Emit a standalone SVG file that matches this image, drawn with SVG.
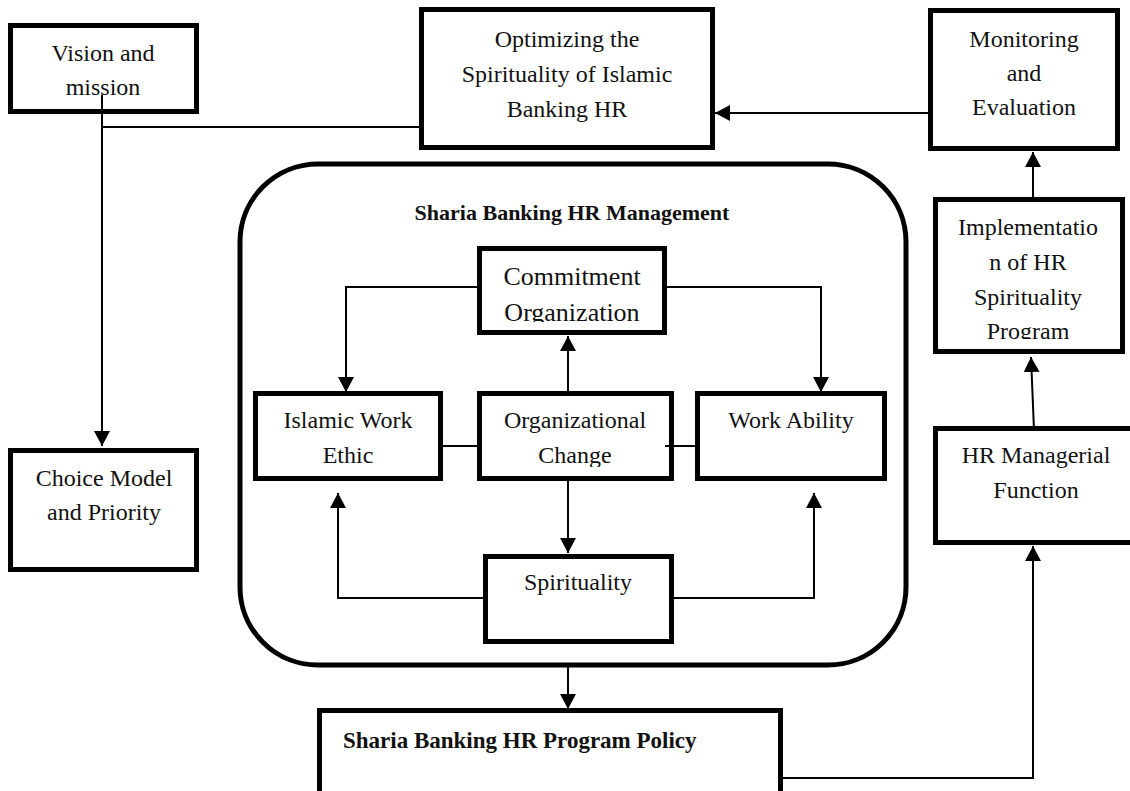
<svg xmlns="http://www.w3.org/2000/svg" width="1130" height="791" viewBox="0 0 1130 791">
<style>
  .box { fill: #ffffff; stroke: #000000; stroke-width: 5; }
  .frame { fill: none; stroke: #000000; stroke-width: 5; }
  .t { font-family: "Liberation Serif", "Times New Roman", serif; font-size: 24px; fill: #111111; text-anchor: middle; }
  .tt { font-family: "Liberation Serif", "Times New Roman", serif; font-size: 26px; fill: #111111; text-anchor: middle; }
  .title { font-family: "Liberation Serif", "Times New Roman", serif; font-size: 22px; font-weight: bold; fill: #111111; text-anchor: middle; }
  .bold { font-family: "Liberation Serif", "Times New Roman", serif; font-size: 23px; font-weight: bold; fill: #111111; }
  .c { fill: none; stroke: #000000; stroke-width: 2; }
  .a { marker-end: url(#arrow); }
</style>
<defs>
  <marker id="arrow" markerUnits="userSpaceOnUse" viewBox="0 0 15 16" refX="15" refY="8" markerWidth="15" markerHeight="16" orient="auto">
    <path d="M0,0 L15,8 L0,16 z" fill="#000000"/>
  </marker>
  <clipPath id="clipCommit"><rect x="479" y="248" width="186" height="74"/></clipPath>
  <clipPath id="clipImpl"><rect x="935" y="199" width="188" height="140"/></clipPath>
  <clipPath id="clipOrg"><rect x="479" y="393" width="193" height="74"/></clipPath>
</defs>
<rect width="1130" height="791" fill="#ffffff"/>

<g id="management-frame">
  <rect class="frame" x="240" y="164" width="666" height="501" rx="78" ry="78"/>
  <text class="title" x="572" y="220">Sharia Banking HR Management</text>
</g>

<g id="connectors">
  <path class="c a" d="M102,95 V446"/>
  <path class="c" d="M102,127 H419"/>
  <path class="c a" d="M928,113 H715"/>
  <path class="c a" d="M1033,197 V152"/>
  <path class="c a" d="M1034,430 L1031,357"/>
  <path class="c a" d="M783,778 H1033 V546"/>
  <path class="c a" d="M568,667 V709"/>
  <path class="c a" d="M477,287 H346 V392"/>
  <path class="c a" d="M667,287 H821 V392"/>
  <path class="c a" d="M568,391 V336"/>
  <path class="c a" d="M568,481 V553"/>
  <path class="c" d="M443,446 H477"/>
  <path class="c" d="M665,446 H695"/>
  <path class="c a" d="M483,598 H338 V493"/>
  <path class="c a" d="M673,598 H814 V493"/>
</g>

<g id="vision">
  <rect class="box" x="10.5" y="25.5" width="186" height="86"/>
  <text class="t" x="103" y="61">Vision and</text>
  <text class="t" x="103" y="95">mission</text>
</g>
<path class="c" d="M102,95 V112"/>

<g id="optimizing">
  <rect class="box" x="421.5" y="9.5" width="291" height="138"/>
  <text class="t" x="567" y="47">Optimizing the</text>
  <text class="t" x="567" y="82">Spirituality of Islamic</text>
  <text class="t" x="567" y="117">Banking HR</text>
</g>

<g id="monitoring">
  <rect class="box" x="930.5" y="10.5" width="187" height="138"/>
  <text class="t" x="1024" y="47">Monitoring</text>
  <text class="t" x="1024" y="81">and</text>
  <text class="t" x="1024" y="115">Evaluation</text>
</g>

<g id="implementation">
  <rect class="box" x="935.5" y="199.5" width="187" height="152"/>
  <g clip-path="url(#clipImpl)">
    <text class="t" x="1028" y="235">Implementatio</text>
    <text class="t" x="1028" y="270">n of HR</text>
    <text class="t" x="1028" y="305">Spirituality</text>
    <text class="t" x="1028" y="339">Program</text>
  </g>
</g>

<g id="hr-managerial">
  <rect class="box" x="935.5" y="428.5" width="210" height="114"/>
  <text class="t" x="1036" y="463">HR Managerial</text>
  <text class="t" x="1036" y="498">Function</text>
</g>

<g id="commitment">
  <rect class="box" x="479.5" y="248.5" width="185" height="84"/>
  <g clip-path="url(#clipCommit)">
    <text class="tt" x="572" y="285">Commitment</text>
    <text class="tt" x="572" y="321">Organization</text>
  </g>
</g>

<g id="islamic-work-ethic">
  <rect class="box" x="255.5" y="393.5" width="185" height="85"/>
  <text class="t" x="348" y="428">Islamic Work</text>
  <text class="t" x="348" y="463">Ethic</text>
</g>

<g id="organizational-change">
  <rect class="box" x="479.5" y="393.5" width="192" height="85"/>
  <g clip-path="url(#clipOrg)">
    <text class="t" x="575" y="428">Organizational</text>
    <text class="t" x="575" y="463">Change</text>
  </g>
</g>
<path class="c" d="M665,446 H672"/>

<g id="work-ability">
  <rect class="box" x="697.5" y="393.5" width="187" height="85"/>
  <text class="t" x="791" y="428">Work Ability</text>
</g>

<g id="spirituality">
  <rect class="box" x="485.5" y="556.5" width="186" height="85"/>
  <text class="t" x="578" y="590">Spirituality</text>
</g>

<g id="choice-model">
  <rect class="box" x="10.5" y="450.5" width="186" height="119"/>
  <text class="t" x="104" y="486">Choice Model</text>
  <text class="t" x="104" y="520">and Priority</text>
</g>

<g id="program-policy">
  <rect class="box" x="319.5" y="710.5" width="461" height="100"/>
  <text class="bold" x="343" y="748">Sharia Banking HR Program Policy</text>
</g>
</svg>
